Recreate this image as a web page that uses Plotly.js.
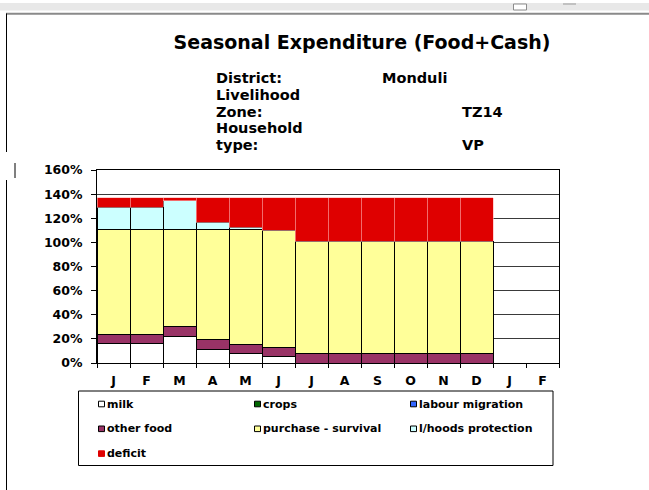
<!DOCTYPE html>
<html>
<head>
<meta charset="utf-8">
<script src="https://cdn.plot.ly/plotly-3.0.1.min.js"></script>
<style>
  html, body { margin: 0; padding: 0; background: #fff; }
  #chart { width: 649px; height: 490px; }
</style>
</head>
<body>
<div id="chart"></div>
<script>
// ---- data ----
var monthKeys   = ['Jan','Feb','Mar','Apr','May','Jun','Jul','Aug','Sep','Oct','Nov','Dec','Jan2','Feb2'];
var monthLabels = ['J','F','M','A','M','J','J','A','S','O','N','D','J','F'];

var seriesNames = ['milk','crops','labour migration','other food','purchase - survival','l/hoods protection','deficit'];

var milk      = [16, 16, 22, 11.5, 7.5, 5.5, 0, 0, 0, 0, 0, 0, 0, 0];
var crops     = [0, 0, 0, 0, 0, 0, 0, 0, 0, 0, 0, 0, 0, 0];
var labour    = [0, 0, 0, 0, 0, 0, 0, 0, 0, 0, 0, 0, 0, 0];
var otherFood = [8, 8, 8, 8, 8, 7.5, 8, 8, 8, 8, 8, 8, 0, 0];
var purchase  = [87, 87, 81, 91.5, 95.5, 97, 93, 93, 93, 93, 93, 93, 0, 0];
var lhoods    = [18, 18, 23.5, 5.5, 1.5, 0, 0, 0, 0, 0, 0, 0, 0, 0];
var deficit   = [8, 8, 2.5, 20.5, 24.5, 27, 36, 36, 36, 36, 36, 36, 0, 0];

var infoLabels = ['District:', 'Livelihood', 'Zone:', 'Household', 'type:'];
var infoValues = ['Monduli', '', 'TZ14', '', 'VP'];
var titleText = 'Seasonal Expenditure (Food+Cash)';

// ---- styles ----
var seriesValues = [milk, crops, labour, otherFood, purchase, lhoods, deficit];
var seriesColors = ['#FFFFFF', '#006600', '#3366FF', '#993366', '#FFFF99', '#CCFFFF', '#DF0000'];
var FONT = 'DejaVu Sans, Verdana, sans-serif';

var W = 649, H = 490;
var M = {l: 97, r: 90, t: 170, b: 127};
var PW = W - M.l - M.r, PH = H - M.t - M.b;
function px(x) { return (x - M.l) / PW; }
function py(y) { return (H - M.b - y) / PH; }

var traces = seriesNames.map(function (name, i) {
  var isDef = name === 'deficit';
  return {
    type: 'bar',
    name: name,
    x: monthKeys,
    y: seriesValues[i],
    marker: {
      color: seriesColors[i],
      line: isDef ? {color: '#ffb3b3', width: 0.6} : {color: '#000000', width: 1}
    },
    showlegend: false,
    hoverinfo: 'name+y'
  };
});

var shapes = [];
var annotations = [];

// window-frame decorations
shapes.push({type: 'rect', xref: 'paper', yref: 'paper', x0: px(0), x1: px(649), y0: py(3), y1: py(10.5),
  fillcolor: '#e8e8e8', line: {width: 0}, layer: 'below'});
shapes.push({type: 'line', xref: 'paper', yref: 'paper', x0: px(6), x1: px(649), y0: py(13.7), y1: py(13.7),
  line: {color: '#8a8a8a', width: 2}});
shapes.push({type: 'rect', xref: 'paper', yref: 'paper', x0: px(513.5), x1: px(526.5), y0: py(4), y1: py(10),
  fillcolor: '#ffffff', line: {color: '#8c8c8c', width: 1}});
shapes.push({type: 'line', xref: 'paper', yref: 'paper', x0: px(563), x1: px(576), y0: py(4), y1: py(4),
  line: {color: '#9a9a9a', width: 1}});
shapes.push({type: 'line', xref: 'paper', yref: 'paper', x0: px(6.5), x1: px(6.5), y0: py(13.5), y1: py(152),
  line: {color: '#000', width: 1}});
shapes.push({type: 'line', xref: 'paper', yref: 'paper', x0: px(6.5), x1: px(6.5), y0: py(180), y1: py(490),
  line: {color: '#000', width: 1}});
shapes.push({type: 'line', xref: 'paper', yref: 'paper', x0: px(15), x1: px(15), y0: py(163), y1: py(178),
  line: {color: '#000', width: 1}});

// info block
var infoY0 = 78.3, infoStep = 16.7;
infoLabels.forEach(function (t, i) {
  annotations.push({xref: 'paper', yref: 'paper', x: px(214), y: py(infoY0 + i * infoStep),
    xanchor: 'left', yanchor: 'middle', showarrow: false, text: t,
    font: {family: FONT, size: 14.5, weight: 700, color: '#000'}});
  if (infoValues[i]) {
    annotations.push({xref: 'paper', yref: 'paper', x: px(i === 0 ? 380 : 460), y: py(infoY0 + i * infoStep),
      xanchor: 'left', yanchor: 'middle', showarrow: false, text: infoValues[i],
      font: {family: FONT, size: 14.5, weight: 700, color: '#000'}});
  }
});

// legend (box + entries)
shapes.push({type: 'rect', xref: 'paper', yref: 'paper', x0: px(78.5), x1: px(553), y0: py(391), y1: py(465.5),
  fillcolor: 'rgba(0,0,0,0)', line: {color: '#000', width: 1}});
seriesNames.forEach(function (name, i) {
  var col = i % 3, row = Math.floor(i / 3);
  var sx = 98.5 + col * 156, sy = 404 + row * 24.8;
  shapes.push({type: 'rect', xref: 'paper', yref: 'paper', x0: px(sx), x1: px(sx + 6), y0: py(sy - 2.8), y1: py(sy + 2.8),
    fillcolor: seriesColors[i], line: {color: name === 'deficit' ? seriesColors[i] : '#000', width: 1}});
  annotations.push({xref: 'paper', yref: 'paper', x: px(sx + 6.2), y: py(sy), xanchor: 'left', yanchor: 'middle',
    showarrow: false, text: name, font: {family: FONT, size: 11, weight: 700, color: '#000'}});
});

var layout = {
  width: W, height: H,
  margin: M,
  paper_bgcolor: '#ffffff',
  plot_bgcolor: '#ffffff',
  font: {family: FONT, color: '#000'},
  title: {
    text: titleText,
    font: {family: FONT, size: 19, weight: 700, color: '#000'},
    xref: 'container', yref: 'container',
    x: 362 / W, xanchor: 'center',
    y: 1 - 42 / H, yanchor: 'middle'
  },
  barmode: 'stack',
  bargap: 0,
  showlegend: false,
  xaxis: {
    type: 'category',
    categoryorder: 'array',
    categoryarray: monthKeys,
    tickmode: 'array',
    tickvals: monthKeys,
    ticktext: monthLabels,
    tickson: 'boundaries',
    ticks: 'outside',
    ticklen: 4,
    tickcolor: '#000',
    ticklabelstandoff: 6,
    tickfont: {family: FONT, size: 12.5, weight: 700, color: '#000'},
    showline: true, linecolor: '#000', linewidth: 1, mirror: true,
    showgrid: false, zeroline: false,
    fixedrange: true
  },
  yaxis: {
    range: [0, 160],
    dtick: 20,
    tick0: 0,
    ticksuffix: '%',
    ticks: 'outside',
    ticklen: 5,
    tickcolor: '#000',
    ticklabelstandoff: 6,
    tickfont: {family: FONT, size: 12.5, weight: 700, color: '#000'},
    showgrid: true, gridcolor: '#3a3a3a', gridwidth: 1,
    showline: true, linecolor: '#000', linewidth: 1, mirror: true,
    zeroline: false,
    fixedrange: true
  },
  shapes: shapes,
  annotations: annotations
};

Plotly.newPlot('chart', traces, layout, {displayModeBar: false, staticPlot: true});
</script>
</body>
</html>
